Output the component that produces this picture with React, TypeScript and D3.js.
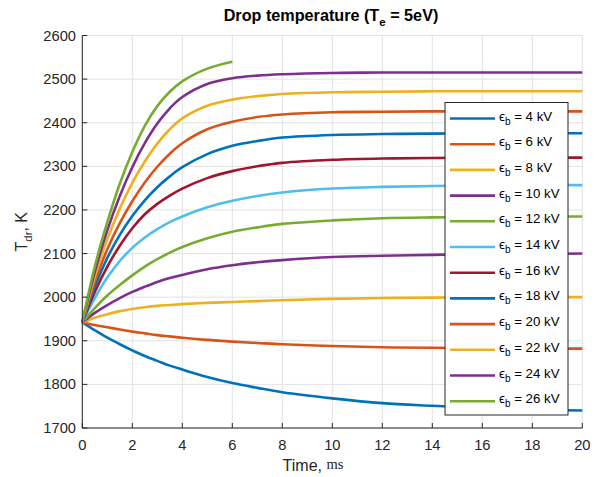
import React from "react";
import * as d3 from "d3";

const timeMs = [0, 0.5, 1, 1.5, 2, 2.5, 3, 3.5, 4, 5, 6, 7, 8, 10, 12, 14, 16, 18, 20];
const kv4 = [1942, 1924, 1907, 1892, 1878, 1865, 1854, 1843, 1834, 1817, 1803, 1792, 1782, 1768, 1757, 1751, 1746, 1742, 1740];
const kv6 = [1942, 1936, 1931, 1926, 1921, 1917, 1913, 1910, 1907, 1902, 1898, 1895, 1892, 1888, 1885, 1884, 1883, 1882, 1882];
const kv8 = [1942, 1953, 1961, 1968, 1973, 1977, 1980, 1982, 1984, 1987, 1989, 1991, 1993, 1996, 1998, 1999, 2000, 2000, 2000];
const kv10 = [1942, 1964, 1982, 1998, 2012, 2024, 2035, 2044, 2051, 2064, 2073, 2080, 2085, 2092, 2095, 2097, 2099, 2099, 2100];
const kv12 = [1942, 1975, 2004, 2028, 2050, 2070, 2087, 2102, 2115, 2135, 2150, 2160, 2168, 2176, 2181, 2183, 2184, 2185, 2185];
const kv14 = [1942, 1998, 2045, 2083, 2113, 2137, 2156, 2172, 2185, 2206, 2221, 2232, 2240, 2249, 2253, 2255, 2256, 2257, 2257];
const kv16 = [1942, 2012, 2070, 2118, 2158, 2190, 2214, 2233, 2249, 2273, 2289, 2300, 2308, 2315, 2318, 2319, 2320, 2320, 2320];
const kv18 = [1942, 2024, 2090, 2143, 2186, 2222, 2252, 2277, 2298, 2328, 2347, 2358, 2366, 2372, 2374, 2375, 2376, 2376, 2376];
const kv20 = [1942, 2035, 2110, 2170, 2220, 2263, 2299, 2329, 2353, 2385, 2402, 2413, 2419, 2424, 2425, 2426, 2426, 2426, 2426];
const kv22 = [1942, 2047, 2133, 2203, 2262, 2311, 2352, 2385, 2410, 2439, 2453, 2461, 2466, 2470, 2471, 2472, 2472, 2472, 2472];
const kv24 = [1942, 2058, 2153, 2232, 2298, 2353, 2398, 2433, 2459, 2489, 2502, 2508, 2511, 2514, 2515, 2515, 2515, 2515, 2515];
const kv26 = [1942, 2070, 2172, 2260, 2333, 2393, 2438, 2471, 2495, 2524, 2540];

const seriesLabels = ["4 kV", "6 kV", "8 kV", "10 kV", "12 kV", "14 kV", "16 kV", "18 kV", "20 kV", "22 kV", "24 kV", "26 kV"];
const seriesValues = [kv4, kv6, kv8, kv10, kv12, kv14, kv16, kv18, kv20, kv22, kv24, kv26];
const colors = ["#0072BD", "#D95319", "#EDB120", "#7E2F8E", "#77AC30", "#4DBEEE", "#A2142F"];

const xTicks = [0, 2, 4, 6, 8, 10, 12, 14, 16, 18, 20];
const yTicks = [1700, 1800, 1900, 2000, 2100, 2200, 2300, 2400, 2500, 2600];

const W = 597, H = 477;
const L = 82.3, R = 582.3, T = 35.5, B = 428;
const FONT = "'Liberation Sans', Arial, Helvetica, sans-serif";

export default function App() {
  const x = d3.scaleLinear().domain([0, 20]).range([L, R]);
  const y = d3.scaleLinear().domain([1700, 2600]).range([B, T]);
  const line = d3
    .line<[number, number]>()
    .x((d) => x(d[0]))
    .y((d) => y(d[1]))
    .curve(d3.curveCatmullRom.alpha(0.5));

  const axisColor = "#262626";
  const legX = 445, legY = 102.5, legW = 123, legH = 312.5;
  const rowH = 25.7;

  return (
    <svg width={W} height={H} style={{ position: "absolute", left: 0, top: 0, background: "#fff" }} fontFamily={FONT}>
      <rect x={0} y={0} width={W} height={H} fill="#fff" />
      {xTicks.map((t) => (
        <line key={"gx" + t} x1={x(t)} x2={x(t)} y1={T} y2={B} stroke="#e2e2e2" strokeWidth={1} />
      ))}
      {yTicks.map((t) => (
        <line key={"gy" + t} x1={L} x2={R} y1={y(t)} y2={y(t)} stroke="#e2e2e2" strokeWidth={1} />
      ))}
      {seriesValues.map((vals, i) => (
        <path
          key={"s" + i}
          d={line(vals.map((v, j) => [timeMs[j], v] as [number, number])) || ""}
          fill="none"
          stroke={colors[i % colors.length]}
          strokeWidth={2.6}
        />
      ))}
      <line x1={L} x2={L} y1={T} y2={B} stroke={axisColor} strokeWidth={1} />
      <line x1={L} x2={R} y1={B} y2={B} stroke={axisColor} strokeWidth={1} />
      {xTicks.map((t) => (
        <g key={"xt" + t}>
          <line x1={x(t)} x2={x(t)} y1={B} y2={B - 5} stroke={axisColor} />
          <text x={x(t)} y={450} textAnchor="middle" fontSize={14.7} fill={axisColor}>
            {t}
          </text>
        </g>
      ))}
      {yTicks.map((t) => (
        <g key={"yt" + t}>
          <line x1={L} x2={L + 5} y1={y(t)} y2={y(t)} stroke={axisColor} />
          <text x={76} y={y(t) + 5} textAnchor="end" fontSize={14.7} fill={axisColor}>
            {t}
          </text>
        </g>
      ))}
      <text x={331} y={21} textAnchor="middle" fontSize={16.2} fontWeight="bold" fill="#000">
        Drop temperature (T
        <tspan fontSize={11.5} dy={4.5}>e</tspan>
        <tspan dy={-4.5}> = 5eV)</tspan>
      </text>
      <text x={313} y={471} textAnchor="middle" fontSize={16} fill={axisColor}>
        Time,{" "}
        <tspan fontFamily="'Liberation Serif', 'Times New Roman', serif" fontSize={14.5} dy={-2}>ms</tspan>
      </text>
      <text transform={`translate(27, ${(T + B) / 2}) rotate(-90)`} textAnchor="middle" fontSize={16} fill={axisColor}>
        T<tspan fontSize={11.5} dy={4.5}>dr</tspan>
        <tspan dy={-4.5}>, K</tspan>
      </text>
      <rect x={legX} y={legY} width={legW} height={legH} fill="#fff" stroke="#262626" strokeWidth={1} />
      {seriesLabels.map((lab, i) => {
        const cy = legY + 16 + i * rowH;
        return (
          <g key={"lg" + i}>
            <line x1={450} x2={495} y1={cy} y2={cy} stroke={colors[i % colors.length]} strokeWidth={2.6} />
            <text x={499} y={cy + 2} fontSize={13.3} fill="#000">
              ϵ<tspan fontSize={10} dy={4}>b</tspan>
              <tspan dy={-4}> = {lab}</tspan>
            </text>
          </g>
        );
      })}
    </svg>
  );
}
